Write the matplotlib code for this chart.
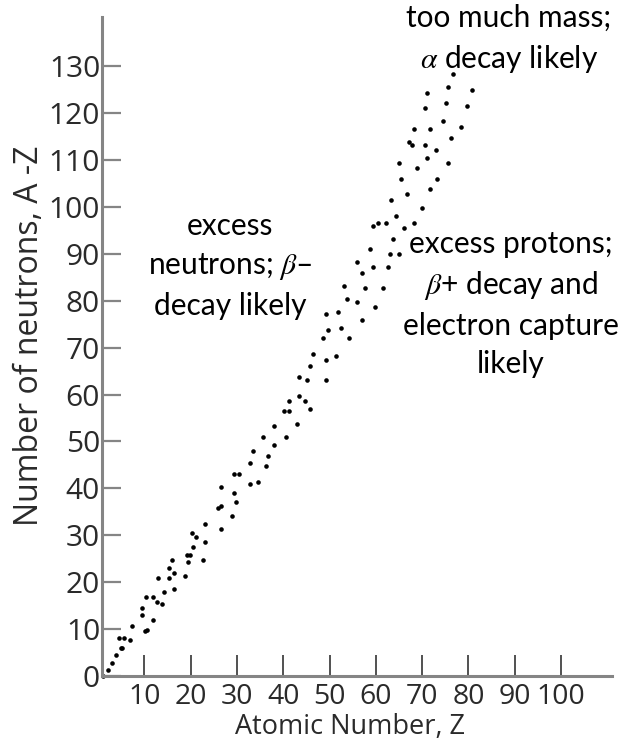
import matplotlib
matplotlib.use("Agg")
import matplotlib.pyplot as plt

# Estimated nuclide positions (Z, N)
Z = [1.0, 2.2, 3.1, 3.9, 4.9, 5.2, 4.6, 5.6, 6.8, 7.4, 10.2, 10.5, 11.9, 9.6, 9.6,
     10.4, 11.9, 12.7, 13.8, 14.3, 13.0, 15.3, 15.3, 15.9, 16.5, 16.5, 18.8, 19.4,
     19.3, 19.9, 20.5, 20.3, 21.1, 22.6, 23.2, 23.2, 26.6, 26.0, 26.6, 26.6, 28.9,
     29.4, 29.9, 29.4, 30.5, 32.8, 34.5, 32.8, 33.4, 36.3, 36.8, 35.6, 37.9, 37.9,
     40.7, 43.0, 40.2, 41.3, 41.3, 43.5, 44.7, 45.8, 43.5, 45.2, 45.8, 46.4, 49.2,
     49.2, 51.5, 48.5, 49.7, 52.5, 54.2, 49.2, 51.9, 53.7, 55.9, 53.1, 57.0, 59.9,
     57.6, 61.6, 55.9, 57.0, 59.3, 62.7, 58.8, 63.0, 64.9, 63.8, 66.1, 59.3, 60.5,
     62.1, 64.4, 68.3, 70.0, 63.2, 66.7, 71.7, 65.5, 73.3, 64.9, 68.8, 75.5, 71.1,
     67.1, 67.7, 70.6, 72.9, 76.2, 68.3, 71.7, 78.4, 74.4, 70.6, 75.1, 79.6, 71.1,
     75.6, 80.7, 76.7]
N = [0.0, 1.3, 2.7, 4.5, 5.9, 5.9, 8.0, 8.0, 7.7, 10.7, 9.5, 9.8, 11.9, 13.0, 14.6,
     16.9, 16.9, 15.8, 15.3, 18.0, 20.8, 20.8, 23.1, 24.7, 21.9, 18.5, 21.4, 24.2,
     25.8, 25.8, 27.4, 30.4, 29.7, 24.7, 28.5, 32.4, 31.3, 35.8, 36.3, 40.2, 34.1,
     39.1, 37.0, 43.1, 43.1, 40.9, 41.4, 45.4, 48.0, 44.7, 47.0, 50.9, 49.3, 53.2,
     50.9, 53.7, 56.5, 56.5, 58.7, 59.8, 58.6, 56.9, 63.7, 63.1, 66.0, 68.7, 67.4,
     63.1, 68.2, 72.1, 73.8, 74.3, 72.1, 77.1, 77.7, 80.4, 79.8, 83.2, 75.9, 78.7,
     82.7, 82.7, 88.2, 86.0, 87.1, 87.1, 91.0, 89.9, 89.9, 93.2, 95.5, 96.0, 96.5,
     96.5, 98.1, 96.5, 99.8, 101.5, 102.7, 103.8, 106.0, 106.0, 109.3, 108.2, 109.3,
     110.5, 113.8, 113.2, 113.2, 112.2, 114.8, 116.6, 116.6, 117.1, 118.4, 121.2,
     122.2, 121.6, 124.4, 125.5, 124.9, 128.4]

x_ticks = [10, 20, 30, 40, 50, 60, 70, 80, 90, 100]
y_ticks = [0, 10, 20, 30, 40, 50, 60, 70, 80, 90, 100, 110, 120, 130]

W, H = 622, 747
fig = plt.figure(figsize=(W / 100, H / 100), dpi=100)
ax = fig.add_axes([101.5 / W, (H - 676) / H, 510.5 / W, 659 / H])

ax.plot(Z, N, 'o', color='black', markersize=3.3, markeredgewidth=0, clip_on=False)

ax.set_xlim(0.75, 111)
ax.set_ylim(0, 140.5)

for s in ['top', 'right']:
    ax.spines[s].set_visible(False)
for s in ['left', 'bottom']:
    ax.spines[s].set_color('#858585')
    ax.spines[s].set_linewidth(2.2)

ax.set_xticks(x_ticks)
ax.set_xticklabels([str(v) for v in x_ticks], family='Open Sans', size=20.5,
                   color='#2a2a2a')
ax.set_yticks(y_ticks)
ax.set_yticklabels([str(v) for v in y_ticks], family='Open Sans', size=21.5,
                   color='#2a2a2a')
ax.tick_params(axis='x', direction='in', length=15, width=1.1, color='#222222', pad=5)
ax.tick_params(axis='y', direction='in', length=14, width=1.6, color='#858585', pad=1)

fig.text(350 / W, 1 - 727 / H, 'Atomic Number, Z', ha='center', va='center',
         family='Open Sans', size=19.5, color='#2a2a2a')
fig.text(30 / W, 1 - 336 / H, 'Number of neutrons, A -Z', ha='center', va='center',
         rotation=90, family='Open Sans', size=23, color='#2a2a2a')

plt.rcParams['mathtext.fontset'] = 'stix'
ann = dict(ha='center', va='center', family='Lato', size=21.5, color='black',
           linespacing=1.45)
fig.text(509 / W, 1 - 39 / H, 'too much mass;\n$\\alpha$ decay likely', **ann)
fig.text(230 / W, 1 - 266 / H, 'excess\nneutrons; $\\beta$\u2013\ndecay likely', **ann)
fig.text(511 / W, 1 - 304 / H, 'excess protons;\n$\\beta$+ decay and\nelectron capture\nlikely', **ann)

fig.savefig('out.png', dpi=100)
